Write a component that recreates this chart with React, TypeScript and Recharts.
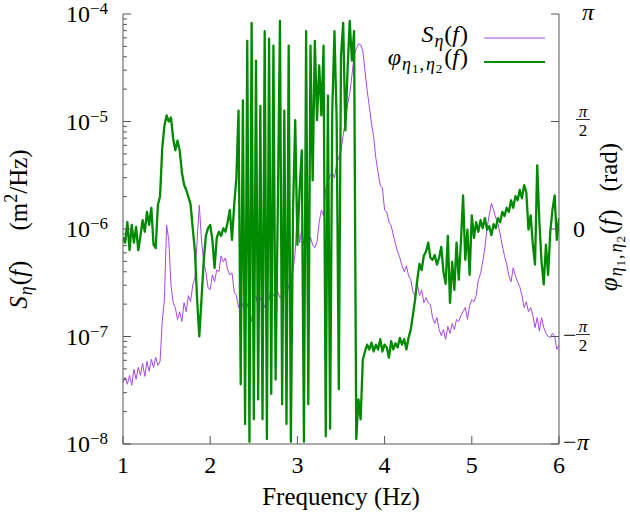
import React from 'react'
import { LineChart, Line, XAxis, YAxis, Legend } from 'recharts'

// frequency grid of the spectrum estimate (Hz)
const F_START = 1
const F_STEP = 0.025

// wave-height spectral density S_eta(f), m^2/Hz
const spectrum = [
  3.75e-8, 4.17e-8, 3.59e-8, 4.36e-8, 3.51e-8, 4.95e-8, 4.0e-8, 5.17e-8, 4.36e-8, 5.63e-8,
  4.26e-8, 5.87e-8, 4.74e-8, 6.13e-8, 5.17e-8, 6.4e-8, 5.39e-8, 5.87e-8, 1.38e-7, 2.2e-7,
  1.09e-6, 7.9e-7, 3.03e-7, 2.06e-7, 1.86e-7, 1.44e-7, 1.7e-7, 1.38e-7, 2.06e-7, 1.7e-7,
  2.4e-7, 2.1e-7, 3.03e-7, 3.51e-7, 7.9e-7, 1.67e-6, 7.9e-7, 4.95e-7, 4.0e-7, 2.84e-7,
  2.72e-7, 3.75e-7, 3.23e-7, 4.17e-7, 4.0e-7, 5.63e-7, 4.95e-7, 5.39e-7, 4.17e-7, 3.75e-7,
  3.91e-7, 2.6e-7, 2.4e-7, 1.86e-7, 2.2e-7, 1.94e-7, 1.67e-7, 2.02e-7, 1.7e-7, 1.38e-7,
  2.2e-7, 2.4e-7, 1.86e-7, 2.3e-7, 2.06e-7, 1.86e-7, 2.4e-7, 2.2e-7, 2.9e-7, 2.4e-7,
  2.3e-7, 2.6e-7, 2.3e-7, 2.5e-7, 2.6e-7, 2.4e-7, 2.97e-7, 3.37e-7, 4.17e-7, 6.13e-7,
  1.67e-6, 7.42e-7, 9.8e-7, 7.1e-7, 7.9e-7, 6.4e-7, 8.4e-7, 7.1e-7, 6.7e-7, 7.6e-7,
  1.16e-6, 1.5e-6, 1.32e-6, 2.4e-6, 2.72e-6, 3.16e-6, 3.37e-6, 2.97e-6, 4.08e-6, 4.64e-6,
  5.39e-6, 7.42e-6, 1.02e-5, 1.44e-5, 1.82e-5, 2.66e-5, 4.08e-5, 4.74e-5, 5.27e-5, 5.17e-5,
  4.54e-5, 2.97e-5, 1.94e-5, 1.38e-5, 9.58e-6, 7.11e-6, 4.54e-6, 3.37e-6, 2.55e-6, 2.4e-6,
  1.5e-6, 1.44e-6, 1.16e-6, 1.07e-6, 8.8e-7, 7.26e-7, 6.13e-7, 5.39e-7, 4.54e-7, 4.0e-7,
  4.54e-7, 3.67e-7, 3.37e-7, 2.6e-7, 2.4e-7, 3.1e-7, 2.4e-7, 2.72e-7, 2.06e-7, 2.3e-7,
  2.06e-7, 1.98e-7, 1.5e-7, 1.32e-7, 1.5e-7, 1.16e-7, 1.02e-7, 1.16e-7, 9.4e-8, 1.24e-7,
  1.07e-7, 1.32e-7, 1.16e-7, 1.44e-7, 1.38e-7, 1.57e-7, 1.7e-7, 1.86e-7, 1.44e-7, 1.94e-7,
  2.2e-7, 2.1e-7, 2.4e-7, 3.37e-7, 3.83e-7, 4.95e-7, 6.7e-7, 1.02e-6, 1.35e-6, 1.74e-6,
  1.5e-6, 1.27e-6, 1.12e-6, 8.99e-7, 6.95e-7, 5.63e-7, 4.74e-7, 3.67e-7, 3.23e-7, 4.36e-7,
  3.67e-7, 3.23e-7, 2.9e-7, 2.4e-7, 1.86e-7, 2.1e-7, 1.7e-7, 1.86e-7, 1.57e-7, 1.21e-7,
  1.5e-7, 1.12e-7, 1.5e-7, 1.21e-7, 1.07e-7, 1.0e-7, 9.8e-8, 1.07e-7, 1.0e-7, 7.6e-8,
  8.3e-8,
]

// cross-spectrum phase between the two gauges, rad
const phase = [
  -0.12, -0.2, 0.1, -0.31, 0.06, -0.2, 0.03, -0.31, -0.1, 0.13,
  -0.04, 0.25, 0.06, 0.31, -0.23, -0.28, 0.35, 0.48, 1.18, 1.51,
  1.66, 1.57, 1.63, 1.32, 1.15, 1.29, 1.15, 0.83, 0.65, 0.57,
  0.47, 0.36, 0.01, -0.33, -1.03, -1.57, -1.03, -0.48, -0.1, 0.01,
  0.06, -0.16, -0.57, -0.13, -0.04, -0.1, 0.01, -0.04, 0.1, 0.28,
  -0.16, 0.35, 0.74, 1.73, -2.27, 1.88, -2.85, 2.75, -3.11, 3.01,
  -2.78, 2.46, -2.49, 1.8, -2.78, 2.89, -3.07, 2.78, -2.41, 2.68,
  -2.2, 0.28, 3.04, -2.56, 1.73, -2.85, 2.68, -3.11, 0.28, 1.59,
  -0.23, 0.57, 1.15, -3.11, 2.89, -2.56, 2.68, 0.71, 2.75, 1.59,
  2.39, 1.66, 2.68, -3.03, 1.95, -2.92, 1.73, 2.89, 1.59, -2.34,
  2.53, 3.01, 1.44, 2.31, 3.04, 2.46, 2.89, -3.07, -2.49, -2.78,
  -1.91, -1.79, -1.69, -1.76, -1.66, -1.79, -1.69, -1.76, -1.61, -1.79,
  -1.69, -1.73, -1.88, -1.64, -1.76, -1.67, -1.73, -1.59, -1.69, -1.61,
  -1.76, -1.59, -1.47, -1.25, -1.03, -0.74, -0.51, -0.6, -0.39, -0.33,
  -0.2, -0.42, -0.45, -0.38, -0.52, -0.42, -0.26, -0.63, -0.8, -0.1,
  -1.08, -0.48, -0.89, -0.2, -0.74, -0.2, 0.49, -0.45, -0.01, -0.67,
  0.2, -0.13, 0.1, -0.04, 0.13, 0.01, 0.16, -0.01, 0.04, -0.09,
  0.07, 0.01, 0.16, 0.1, 0.25, 0.19, 0.31, 0.25, 0.42, 0.31,
  0.48, 0.42, 0.57, 0.45, 0.64, 0.54, -0.01, 0.2, -0.23, -0.52,
  0.93, 0.1, -0.48, -0.81, -0.23, -0.67, -0.04, 0.28, 0.49, -0.16,
  0.16,
]

const freqTicks = [1, 2, 3, 4, 5, 6]
const innerFreqTicks = [2, 3, 4, 5]
const decadeTicks = [1e-8, 1e-7, 1e-6, 1e-5, 1e-4]
const decadeExponents = ['\u22128', '\u22127', '\u22126', '\u22125', '\u22124']
const minorMultipliers = [2, 3, 4, 5, 6, 7, 8, 9]
const phaseTicks = [-Math.PI, -Math.PI / 2, 0, Math.PI / 2, Math.PI]
const phaseLabels = [
  { neg: true, num: 'π', den: '' },
  { neg: true, num: 'π', den: '2' },
  { neg: false, num: '0', den: '' },
  { neg: false, num: 'π', den: '2' },
  { neg: false, num: 'π', den: '' },
]

const minorTicks = decadeTicks.slice(0, 4).flatMap((d) => minorMultipliers.map((k) => k * d))

const rows = spectrum.map((s, i) => ({
  f: +(F_START + i * F_STEP).toFixed(3),
  s,
  phi: phase[i],
}))

const FONT = "'Liberation Serif', 'DejaVu Serif', serif"
const AXIS = '#555'
const PURPLE = '#a548e6'
const GREEN = '#008a00'
const BIG = 24
const TITLE = 25
const SMALL = 17
const SUB = 18
const TINY = 13

const txt = { style: { fontFamily: FONT }, fill: '#000' }

const BottomTick = ({ x, y, payload }: any) => (
  <g>
    <line x1={x} x2={x} y1={y} y2={y - 8} stroke={AXIS} />
    <text {...txt} x={x} y={y + 29} textAnchor="middle" fontSize={BIG}>
      {payload.value}
    </text>
  </g>
)

const TopTick = ({ x, y }: any) => <line x1={x} x2={x} y1={y} y2={y + 8} stroke={AXIS} />

const LeftTick = ({ x, y, payload }: any) => {
  const i = decadeTicks.indexOf(payload.value)
  const major = i >= 0
  return (
    <g>
      <line x1={x} x2={x + (major ? 8 : 4)} y1={y} y2={y} stroke={AXIS} />
      {major && (
        <text {...txt} x={x - 15} y={y + 8} textAnchor="end" fontSize={BIG}>
          10
          <tspan dy={-8} fontSize={SMALL}>
            {decadeExponents[i]}
          </tspan>
        </text>
      )}
    </g>
  )
}

const RightTick = ({ x, y, payload }: any) => {
  const i = phaseTicks.findIndex((v) => Math.abs(v - payload.value) < 1e-9)
  const lab = phaseLabels[i]
  if (!lab) return null
  const cx = x + 24
  return (
    <g>
      <line x1={x} x2={x - 8} y1={y} y2={y} stroke={AXIS} />
      {lab.neg && (
        <text {...txt} x={x + 4} y={y + 6} fontSize={BIG}>
          {'\u2212'}
        </text>
      )}
      {lab.den ? (
        <g>
          <text {...txt} x={cx} y={y - 5} textAnchor="middle" fontSize={SMALL} fontStyle="italic">
            {lab.num}
          </text>
          <line x1={cx - 7} x2={cx + 7} y1={y - 2} y2={y - 2} stroke="#000" strokeWidth={0.8} />
          <text {...txt} x={cx} y={y + 14} textAnchor="middle" fontSize={SMALL}>
            {lab.den}
          </text>
        </g>
      ) : lab.num === '0' ? (
        <text {...txt} x={x + 14} y={y + 8} fontSize={BIG}>
          0
        </text>
      ) : (
        <text {...txt} x={lab.neg ? x + 18 : x + 23} y={y + 6} fontSize={BIG} fontStyle="italic">
          {lab.num}
        </text>
      )}
    </g>
  )
}

const BottomTitle = () => (
  <text {...txt} x={341} y={505} textAnchor="middle" fontSize={TITLE}>
    Frequency (Hz)
  </text>
)

const LeftTitle = () => (
  <text {...txt} transform="translate(27, 229) rotate(-90)" textAnchor="middle" fontSize={TITLE}>
    <tspan fontStyle="italic">S</tspan>
    <tspan fontStyle="italic" fontSize={SUB} dy={5} dx={1}>η</tspan>
    <tspan dy={-5} dx={1}>(</tspan>
    <tspan fontStyle="italic">f</tspan>
    <tspan dx={1}>)</tspan>
    <tspan dx={30}>(m</tspan>
    <tspan fontSize={SUB} dy={-10}>2</tspan>
    <tspan dy={10}>/Hz)</tspan>
  </text>
)

// phi with the two gauge subscripts, shared by the right title and the legend
const PhiName = ({ size }: { size: number }) => (
  <>
    <tspan fontStyle="italic" fontSize={size}>φ</tspan>
    <tspan fontStyle="italic" fontSize={SUB} dy={5} dx={1}>η</tspan>
    <tspan fontSize={TINY} dy={3} dx={1}>1</tspan>
    <tspan fontSize={SUB} dy={-3} dx={1}>,</tspan>
    <tspan fontStyle="italic" fontSize={SUB} dx={2}>η</tspan>
    <tspan fontSize={TINY} dy={3} dx={1}>2</tspan>
    <tspan fontSize={size} dy={-8} dx={2}>(</tspan>
    <tspan fontStyle="italic" fontSize={size}>f</tspan>
    <tspan fontSize={size} dx={1}>)</tspan>
  </>
)

const RightTitle = () => (
  <text {...txt} transform="translate(617, 217) rotate(-90)" textAnchor="middle" fontSize={TITLE}>
    <PhiName size={TITLE} />
    <tspan dx={18}>(rad)</tspan>
  </text>
)

const LegendBox = () => (
  <svg width={210} height={56} style={{ overflow: 'visible' }}>
    <text {...txt} x={128} y={24} textAnchor="end" fontSize={BIG}>
      <tspan fontStyle="italic">S</tspan>
      <tspan fontStyle="italic" fontSize={SUB} dy={5} dx={1}>η</tspan>
      <tspan dy={-5} dx={1}>(</tspan>
      <tspan fontStyle="italic">f</tspan>
      <tspan dx={1}>)</tspan>
    </text>
    <line x1={144} x2={205} y1={20} y2={20} stroke={PURPLE} strokeWidth={1} />
    <text {...txt} x={128} y={47} textAnchor="end" fontSize={BIG}>
      <PhiName size={BIG} />
    </text>
    <line x1={144} x2={205} y1={44} y2={44} stroke={GREEN} strokeWidth={2.2} />
  </svg>
)

export default function App() {
  return (
    <div style={{ position: 'absolute', left: 0, top: 0, width: 630, height: 517, background: '#fff', fontFamily: FONT }}>
      <LineChart width={630} height={517} data={rows} margin={{ top: 14, right: 0, bottom: 0, left: 0 }}>
        <XAxis
          dataKey="f"
          type="number"
          domain={[1, 6]}
          allowDataOverflow
          ticks={freqTicks}
          interval={0}
          height={73}
          tickSize={0}
          tickMargin={0}
          tickLine={false}
          tick={<BottomTick />}
          axisLine={{ stroke: AXIS }}
          label={<BottomTitle />}
        />
        <XAxis
          xAxisId="top"
          orientation="top"
          dataKey="f"
          type="number"
          domain={[1, 6]}
          allowDataOverflow
          ticks={innerFreqTicks}
          interval={0}
          height={0}
          tickSize={0}
          tickMargin={0}
          tickLine={false}
          tick={<TopTick />}
          axisLine={{ stroke: AXIS }}
        />
        <YAxis
          yAxisId="left"
          type="number"
          scale="log"
          domain={[1e-8, 1e-4]}
          allowDataOverflow
          ticks={[...decadeTicks, ...minorTicks]}
          interval={0}
          width={123}
          tickSize={0}
          tickMargin={0}
          tickLine={false}
          tick={<LeftTick />}
          axisLine={{ stroke: AXIS }}
          label={<LeftTitle />}
        />
        <YAxis
          yAxisId="right"
          orientation="right"
          type="number"
          domain={[-Math.PI, Math.PI]}
          allowDataOverflow
          ticks={phaseTicks}
          interval={0}
          width={71}
          tickSize={0}
          tickMargin={0}
          tickLine={false}
          tick={<RightTick />}
          axisLine={{ stroke: AXIS }}
          label={<RightTitle />}
        />
        <Legend
          layout="vertical"
          align="center"
          verticalAlign="middle"
          content={<LegendBox />}
          wrapperStyle={{ left: 340, top: 18, width: 210, height: 56 }}
        />
        <Line
          yAxisId="left"
          dataKey="s"
          stroke={PURPLE}
          strokeWidth={1}
          dot={false}
          isAnimationActive={false}
        />
        <Line
          yAxisId="right"
          dataKey="phi"
          stroke={GREEN}
          strokeWidth={2.3}
          strokeLinejoin="round"
          dot={false}
          isAnimationActive={false}
        />
      </LineChart>
    </div>
  )
}
